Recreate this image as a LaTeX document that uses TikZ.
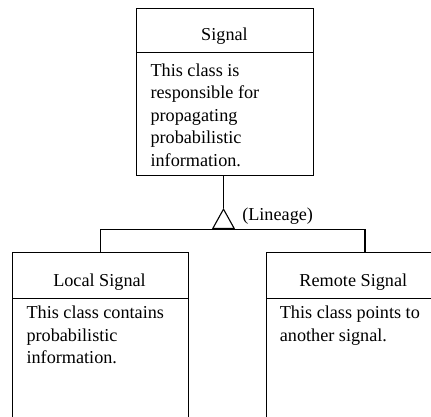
\documentclass[tikz,border=0pt]{standalone}
\usepackage{fontspec}
\setmainfont{Liberation Serif}
\usetikzlibrary{arrows.meta,calc}
\begin{document}
\begin{tikzpicture}[x=1pt,y=1pt,line width=1.1pt,
  box/.style={draw, anchor=north west, inner sep=0pt},
  txt/.style={inner sep=0pt, font=\fontsize{18.2}{22.5}\selectfont},
  inherit/.style={-{Triangle[open,length=21pt,width=23pt]}}]
\useasboundingbox (0,0) rectangle (431,-417);
\clip (0,0) rectangle (431,-417);
% Signal
\node[box, minimum width=177pt, minimum height=44pt] (sigHead) at (136,-8) {};
\node[box, minimum width=177pt, minimum height=123pt] (sigBody) at (136,-52) {};
\node[txt, anchor=base] (sigName) at (224.5,-40.7) {Signal};
\node[txt, anchor=base west, align=left] (sigText) at (150,-166.5) {This class is\\responsible for\\propagating\\probabilistic\\information.};
% Local Signal
\node[box, minimum width=176pt, minimum height=45.4pt] (locHead) at (12.3,-252.3) {};
\node[box, minimum width=176pt, minimum height=135pt] (locBody) at (12.3,-297.7) {};
\node[txt, anchor=base] (locName) at (99.5,-286) {Local Signal};
\node[txt, anchor=base west, align=left] (locText) at (26,-363.5) {This class contains\\probabilistic\\information.};
% Remote Signal
\node[box, minimum width=176pt, minimum height=45.4pt] (remHead) at (265.7,-252.3) {};
\node[box, minimum width=176pt, minimum height=135pt] (remBody) at (265.7,-297.7) {};
\node[txt, anchor=base] (remName) at (353.3,-286) {Remote Signal};
\node[txt, anchor=base west, align=left] (remText) at (279.3,-341) {This class points to\\another signal.};
% Inheritance connector
\coordinate (apex) at (223.5,-208);
\coordinate (join) at (223.5,-229.3);
\coordinate (remTop) at (365,-252.3);
\draw (sigBody.south -| apex) -- (apex);
\draw[inherit] (join) -- (apex);
\draw (locHead.north) |- (join) -| (remTop);
\node[txt, anchor=base west] (lin) at (241.7,-220) {(Lineage)};
\end{tikzpicture}
\end{document}
